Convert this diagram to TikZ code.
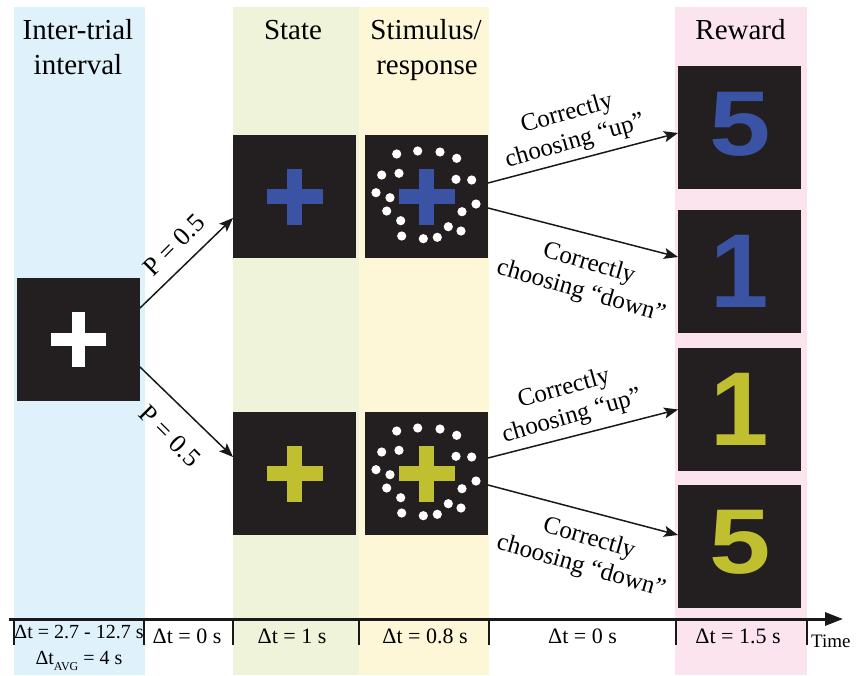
\documentclass[tikz,border=0pt]{standalone}
\usepackage{fontspec}
\setmainfont{Liberation Serif}
\newfontfamily\numfont{Liberation Sans}
\usepackage{graphicx}
\usetikzlibrary{arrows.meta}
\definecolor{bgblue}{HTML}{DFF1FA}
\definecolor{bggreen}{HTML}{EEF3DA}
\definecolor{bgyellow}{HTML}{FDF7D8}
\definecolor{bgpink}{HTML}{FCE4EE}
\definecolor{boxblack}{HTML}{231F20}
\definecolor{cblue}{HTML}{3A53A4}
\definecolor{cyel}{HTML}{BFBF2F}
\newcommand\plusat[4]{%
  \fill[#1] ([shift={(-#3,-#4)}]#2) rectangle ([shift={(#3,#4)}]#2);
  \fill[#1] ([shift={(-#4,-#3)}]#2) rectangle ([shift={(#4,#3)}]#2);}
\begin{document}
\begin{tikzpicture}[x=1pt,y=-1pt,
  blk/.style={fill=boxblack,draw=none,minimum size=123pt,inner sep=0pt,outer sep=0pt},
  arr/.style={line width=1.5pt,black!90,-{Stealth[length=14pt,width=11pt,inset=3pt]}},
  title/.style={font=\fontsize{29}{34}\selectfont,inner sep=0pt,anchor=base},
  plab/.style={font=\fontsize{26}{28}\selectfont,inner sep=0pt},
  clab/.style={font=\fontsize{25}{29}\selectfont,inner sep=0pt,align=center},
  dlab/.style={font=\fontsize{22}{24}\selectfont,inner sep=0pt,anchor=base},
  tick/.style={line width=2pt,black!90},
  numtxt/.style={font=\numfont\bfseries,inner sep=0pt}]
\useasboundingbox (0,0) rectangle (857,675);
\fill[white] (0,0) rectangle (857,675);
% bands
\fill[bgblue] (14,7) rectangle (145,675);
\fill[bggreen] (233,7) rectangle (359,675);
\fill[bgyellow] (359,7) rectangle (489,675);
\fill[bgpink] (675,7) rectangle (807,675);
% titles
\node[title] (t1) at (78,39) {Inter-trial};
\node[title] (t2) at (78,74) {interval};
\node[title] (t3) at (293,39) {State};
\node[title] (t4) at (426,39) {Stimulus/};
\node[title] (t5) at (427,74) {response};
\node[title] (t6) at (740.5,39) {Reward};
% boxes
\node[blk] (iti) at (78.5,339.5) {};
\node[blk] (s1) at (294.5,196.5) {};
\node[blk] (s2) at (294.5,473.5) {};
\node[blk] (m1) at (426.5,196.5) {};
\node[blk] (m2) at (426.5,473.5) {};
\node[blk] (r1) at (739.5,127.5) {};
\node[blk] (r2) at (739.5,271.5) {};
\node[blk] (r3) at (739.5,409.5) {};
\node[blk] (r4) at (739.5,546) {};
% crosses
\plusat{white}{iti.center}{27.5}{6.5}
\plusat{cblue}{s1.center}{28}{7.5}
\plusat{cyel}{s2.center}{28}{7.5}
\plusat{cblue}{m1.center}{28}{7.5}
\plusat{cyel}{m2.center}{28}{7.5}
% dots
\foreach \m in {m1,m2}{
  \foreach \dx/\dy in {-29.8/-42.5,-8.8/-45.5,13.5/-44.5,30.2/-38.2,-44.8/-21.5,-27.5/-23.2,
    29.5/-17.2,45.2/-16.5,-50.5/-3.8,-36.5/1.2,49.5/7.5,-39.8/14.5,35.5/15.2,-25.8/24.2,
    21.8/30.2,-24.8/39.5,34.5/34.5,-3.2/42.2,10.8/40.8}
    \fill[white] ([shift={(\dx,\dy)}]\m.center) circle (4.6pt);
}
% numbers
\node[numtxt,text=cblue] (n1) at ([shift={(0.5,-3.5)}]r1.center) {\fontsize{92}{92}\selectfont\scalebox{1.2}[1]{5}};
\node[numtxt,text=cblue] (n2) at (r2.center) {\fontsize{105}{105}\selectfont 1};
\node[numtxt,text=cyel] (n3) at (r3.center) {\fontsize{105}{105}\selectfont 1};
\node[numtxt,text=cyel] (n4) at ([shift={(0.5,-3.5)}]r4.center) {\fontsize{92}{92}\selectfont\scalebox{1.2}[1]{5}};
% arrows
\draw[arr] ([yshift=31.5pt]iti.east) -- ([yshift=-21.5pt]s1.west);
\draw[arr] ([yshift=-27.5pt]iti.east) -- ([yshift=16.5pt]s2.west);
\draw[arr] ([yshift=13.5pt]m1.east) -- ([yshift=-5.5pt]r1.west);
\draw[arr] ([yshift=-11.5pt]m1.east) -- ([yshift=14.5pt]r2.west);
\draw[arr] ([yshift=15.5pt]m2.east) -- (r3.west);
\draw[arr] ([yshift=-11.5pt]m2.east) -- ([yshift=11pt]r4.west);
% arrow labels
\node[plab,rotate=45] (p1) at (174,245) {P = 0.5};
\node[plab,rotate=-45] (p2) at (170,436) {P = 0.5};
\node[clab,rotate=16] (c1) at (571,128) {Correctly\\choosing “up”};
\node[clab,rotate=-16] (c2) at (585,278) {Correctly\\choosing “down”};
\node[clab,rotate=16] (c3) at (568,403) {Correctly\\choosing “up”};
\node[clab,rotate=-16] (c4) at (585,553) {Correctly\\choosing “down”};
% timeline
\coordinate (ta) at (9,619);
\coordinate (tb) at (843,619);
\draw[line width=3pt,black!90,-{Triangle[length=18pt,width=13pt]}] (ta) -- (tb);
\foreach \x in {14,144,233,359,489,675.5,806.5}
  \draw[tick] (\x,619) -- (\x,645);
\node[dlab,font=\fontsize{20}{22}\selectfont] (d0) at (79,638) {Δt = 2.7 - 12.7 s};
\node[dlab,font=\fontsize{20}{22}\selectfont] (d0b) at (79,664) {Δt\raisebox{-6pt}{\fontsize{12}{12}\selectfont AVG} = 4 s};
\node[dlab] (d1) at (187,643) {Δt = 0 s};
\node[dlab] (d2) at (292,643) {Δt = 1 s};
\node[dlab] (d3) at (425,643) {Δt = 0.8 s};
\node[dlab] (d4) at (582.5,643) {Δt = 0 s};
\node[dlab] (d5) at (738,643) {Δt = 1.5 s};
\node[dlab,anchor=base west,font=\fontsize{19}{20}\selectfont] (tm) at (811,647) {Time};
\end{tikzpicture}
\end{document}
